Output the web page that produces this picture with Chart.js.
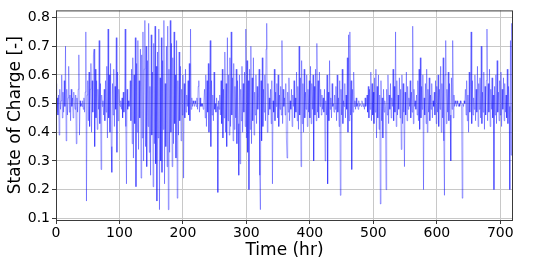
<!DOCTYPE html>
<html>
<head>
<meta charset="utf-8">
<script src="https://cdn.jsdelivr.net/npm/chart.js@4.4.1/dist/chart.umd.min.js"></script>
<style>
  html, body { margin: 0; padding: 0; background: #fff; }
  #wrap { width: 540px; height: 270px; }
</style>
</head>
<body>
<div id="wrap"><canvas id="socChart"></canvas></div>
<script>
// State of charge, one value per hour (hr 0..720)
const soc000 = [
  0.57, 0.47, 0.52, 0.46, 0.53, 0.39, 0.55, 0.48, 0.51, 0.60, 0.45, 0.54, 0.47, 0.58, 0.49, 0.70, 0.37, 0.55, 0.46, 0.52,
  0.63, 0.47, 0.53, 0.44, 0.55, 0.49, 0.52, 0.45, 0.54, 0.50, 0.48, 0.53, 0.36, 0.52, 0.47, 0.55, 0.67, 0.39, 0.51, 0.49,
  0.50, 0.49, 0.51, 0.48, 0.52, 0.47, 0.54, 0.75, 0.16, 0.53, 0.58, 0.44, 0.61, 0.42, 0.55, 0.64, 0.40, 0.58, 0.47, 0.67,
  0.69, 0.35, 0.62, 0.45, 0.58, 0.41, 0.55, 0.48, 0.72, 0.43, 0.57, 0.27, 0.53, 0.49, 0.51, 0.46, 0.55, 0.44, 0.58, 0.47,
  0.63, 0.38, 0.76, 0.45, 0.60, 0.40, 0.64, 0.35, 0.26, 0.57, 0.46, 0.62, 0.42, 0.56, 0.48, 0.73, 0.33, 0.61, 0.44, 0.55
];
const soc100 = [
  0.50, 0.49, 0.51, 0.48, 0.52, 0.45, 0.54, 0.47, 0.53, 0.76, 0.42, 0.22, 0.55, 0.48, 0.51, 0.49, 0.50, 0.58, 0.44, 0.62,
  0.36, 0.66, 0.31, 0.60, 0.43, 0.73, 0.21, 0.64, 0.40, 0.72, 0.34, 0.58, 0.45, 0.69, 0.24, 0.67, 0.38, 0.75, 0.30, 0.62,
  0.79, 0.35, 0.70, 0.28, 0.65, 0.42, 0.78, 0.33, 0.56, 0.25, 0.74, 0.39, 0.61, 0.21, 0.71, 0.36, 0.77, 0.29, 0.63, 0.16,
  0.68, 0.38, 0.76, 0.13, 0.59, 0.30, 0.73, 0.26, 0.65, 0.41, 0.79, 0.22, 0.57, 0.35, 0.70, 0.28, 0.77, 0.13, 0.62, 0.33,
  0.79, 0.40, 0.71, 0.28, 0.66, 0.36, 0.75, 0.43, 0.60, 0.31, 0.72, 0.17, 0.58, 0.39, 0.68, 0.44, 0.63, 0.37, 0.55, 0.46
];
const soc200 = [
  0.60, 0.24, 0.57, 0.45, 0.62, 0.47, 0.53, 0.49, 0.58, 0.46, 0.64, 0.44, 0.76, 0.48, 0.52, 0.49, 0.51, 0.50, 0.49, 0.51,
  0.50, 0.49, 0.52, 0.48, 0.56, 0.58, 0.47, 0.52, 0.49, 0.50, 0.49, 0.50, 0.48, 0.51, 0.55, 0.45, 0.60, 0.42, 0.58, 0.47,
  0.64, 0.40, 0.55, 0.72, 0.35, 0.58, 0.46, 0.53, 0.44, 0.61, 0.48, 0.50, 0.47, 0.52, 0.49, 0.19, 0.51, 0.48, 0.53, 0.46,
  0.58, 0.43, 0.62, 0.38, 0.55, 0.45, 0.68, 0.40, 0.57, 0.35, 0.73, 0.44, 0.60, 0.39, 0.66, 0.42, 0.75, 0.46, 0.59, 0.37,
  0.64, 0.41, 0.56, 0.45, 0.62, 0.36, 0.58, 0.43, 0.25, 0.60, 0.29, 0.55, 0.44, 0.63, 0.40, 0.57, 0.47, 0.61, 0.42, 0.76
];
const soc300 = [
  0.38, 0.65, 0.33, 0.58, 0.20, 0.62, 0.41, 0.70, 0.36, 0.59, 0.44, 0.66, 0.39, 0.54, 0.46, 0.60, 0.43, 0.56, 0.48, 0.52,
  0.62, 0.25, 0.13, 0.58, 0.37, 0.66, 0.42, 0.55, 0.47, 0.60, 0.44, 0.69, 0.78, 0.40, 0.57, 0.46, 0.52, 0.48, 0.55, 0.43,
  0.58, 0.22, 0.51, 0.47, 0.62, 0.44, 0.54, 0.49, 0.57, 0.45, 0.60, 0.42, 0.53, 0.48, 0.56, 0.46, 0.72, 0.43, 0.55, 0.49,
  0.52, 0.46, 0.57, 0.38, 0.31, 0.54, 0.47, 0.59, 0.44, 0.51, 0.48, 0.55, 0.42, 0.53, 0.49, 0.58, 0.45, 0.52, 0.47, 0.61,
  0.44, 0.56, 0.41, 0.70, 0.46, 0.59, 0.28, 0.65, 0.43, 0.57, 0.40, 0.62, 0.45, 0.54, 0.48, 0.60, 0.42, 0.55, 0.47, 0.58
];
const soc400 = [
  0.45, 0.63, 0.43, 0.57, 0.48, 0.60, 0.30, 0.56, 0.46, 0.62, 0.44, 0.71, 0.47, 0.58, 0.45, 0.61, 0.49, 0.55, 0.46, 0.53,
  0.48, 0.52, 0.47, 0.55, 0.30, 0.51, 0.46, 0.60, 0.22, 0.54, 0.44, 0.65, 0.48, 0.52, 0.45, 0.57, 0.49, 0.50, 0.47, 0.53,
  0.48, 0.56, 0.44, 0.60, 0.47, 0.52, 0.42, 0.58, 0.18, 0.55, 0.46, 0.62, 0.43, 0.51, 0.49, 0.57, 0.45, 0.53, 0.48, 0.66,
  0.40, 0.74, 0.44, 0.75, 0.46, 0.58, 0.27, 0.55, 0.47, 0.61, 0.49, 0.51, 0.48, 0.52, 0.49, 0.50, 0.48, 0.51, 0.49, 0.50,
  0.50, 0.49, 0.51, 0.50, 0.49, 0.50, 0.48, 0.52, 0.49, 0.50, 0.53, 0.47, 0.56, 0.45, 0.55, 0.48, 0.61, 0.44, 0.57, 0.46
];
const soc500 = [
  0.54, 0.43, 0.59, 0.47, 0.62, 0.38, 0.56, 0.45, 0.60, 0.41, 0.53, 0.15, 0.58, 0.44, 0.52, 0.38, 0.55, 0.47, 0.51, 0.49,
  0.20, 0.55, 0.46, 0.60, 0.43, 0.53, 0.48, 0.57, 0.45, 0.52, 0.49, 0.62, 0.44, 0.56, 0.47, 0.75, 0.42, 0.58, 0.46, 0.53,
  0.48, 0.59, 0.45, 0.55, 0.34, 0.60, 0.43, 0.57, 0.47, 0.28, 0.54, 0.46, 0.61, 0.44, 0.56, 0.48, 0.52, 0.49, 0.58, 0.45,
  0.54, 0.47, 0.77, 0.43, 0.55, 0.49, 0.51, 0.48, 0.53, 0.46, 0.58, 0.44, 0.62, 0.41, 0.66, 0.45, 0.56, 0.48, 0.60, 0.20,
  0.52, 0.46, 0.57, 0.43, 0.62, 0.40, 0.55, 0.47, 0.59, 0.44, 0.53, 0.48, 0.57, 0.45, 0.51, 0.49, 0.54, 0.46, 0.58, 0.43
];
const soc600 = [
  0.56, 0.47, 0.60, 0.42, 0.55, 0.48, 0.63, 0.40, 0.57, 0.45, 0.66, 0.37, 0.18, 0.60, 0.72, 0.43, 0.55, 0.47, 0.61, 0.44,
  0.57, 0.46, 0.30, 0.59, 0.48, 0.72, 0.45, 0.53, 0.49, 0.51, 0.50, 0.49, 0.51, 0.50, 0.49, 0.50, 0.49, 0.51, 0.50, 0.49,
  0.17, 0.50, 0.49, 0.51, 0.50, 0.55, 0.46, 0.58, 0.44, 0.53, 0.40, 0.61, 0.47, 0.56, 0.75, 0.43, 0.58, 0.46, 0.52, 0.48,
  0.60, 0.44, 0.55, 0.47, 0.63, 0.42, 0.57, 0.48, 0.59, 0.45, 0.70, 0.43, 0.54, 0.47, 0.61, 0.41, 0.56, 0.46, 0.58, 0.76,
  0.44, 0.57, 0.47, 0.62, 0.42, 0.55, 0.48, 0.59, 0.45, 0.53, 0.20, 0.56, 0.46, 0.60, 0.43, 0.65, 0.47, 0.54, 0.44, 0.58
];
const soc700 = [
  0.46, 0.61, 0.42, 0.55, 0.48, 0.59, 0.44, 0.57, 0.47, 0.53, 0.45, 0.62, 0.43, 0.56, 0.49, 0.20, 0.72, 0.32, 0.78, 0.47,
  0.66
];

const xTicks = [0, 100, 200, 300, 400, 500, 600, 700];
const yTicks = [0.1, 0.2, 0.3, 0.4, 0.5, 0.6, 0.7, 0.8];

const soc = [].concat(soc000, soc100, soc200, soc300, soc400, soc500, soc600, soc700);
const points = soc.map((v, hr) => ({ x: hr, y: v }));

const FONT = 'DejaVu Sans';

// cadre autour de la zone de tracé
const framePlugin = {
  id: 'frame',
  afterDatasetsDraw(chart) {
    const { ctx, chartArea: a } = chart;
    ctx.save();
    ctx.strokeStyle = '#3a3a3a';
    ctx.lineWidth = 1;
    ctx.strokeRect(a.left + 0.5, a.top + 0.5, a.right - a.left - 1, a.bottom - a.top);
    ctx.restore();
  }
};

new Chart(document.getElementById('socChart'), {
  type: 'line',
  data: {
    datasets: [{
      data: points,
      borderColor: 'rgba(0, 0, 255, 0.7)',
      borderWidth: 0.5,
      pointRadius: 0,
      tension: 0,
      fill: false
    }]
  },
  options: {
    responsive: true,
    maintainAspectRatio: false,
    animation: false,
    layout: { padding: { left: 0, top: 10, right: 27, bottom: 0 } },
    plugins: {
      legend: { display: false },
      tooltip: { enabled: false }
    },
    scales: {
      x: {
        type: 'linear',
        min: 0,
        max: 720,
        afterBuildTicks: s => { s.ticks = xTicks.map(v => ({ value: v })); },
        afterFit: s => { s.height = 50; },
        grid: { color: '#c8c8c8', lineWidth: 1, tickLength: 4, tickColor: '#3a3a3a' },
        border: { display: false },
        ticks: { color: '#000', font: { family: FONT, size: 14 }, padding: 1, maxRotation: 0 },
        title: { display: true, text: 'Time (hr)', color: '#000', font: { family: FONT, size: 17 }, padding: { top: 0, bottom: 9 } }
      },
      y: {
        min: 0.094,
        max: 0.825,
        afterBuildTicks: s => { s.ticks = yTicks.map(v => ({ value: v })); },
        afterFit: s => { s.width = 56; },
        grid: { color: '#c8c8c8', lineWidth: 1, tickLength: 4, tickColor: '#3a3a3a' },
        border: { display: false },
        ticks: { color: '#000', font: { family: FONT, size: 14 }, padding: 2, callback: v => v.toFixed(1) },
        title: { display: true, text: 'State of Charge [-]', color: '#000', font: { family: FONT, size: 17 }, padding: { top: 5, bottom: 0 } }
      }
    }
  },
  plugins: [framePlugin]
});
</script>
</body>
</html>
